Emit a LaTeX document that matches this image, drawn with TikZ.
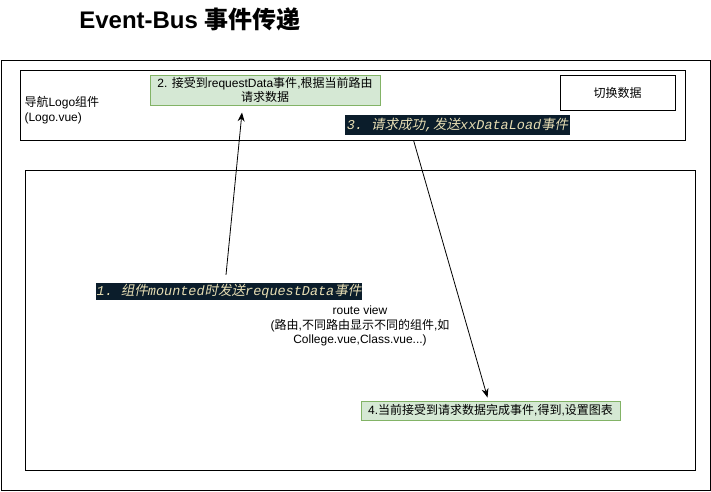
\documentclass[tikz,border=0pt]{standalone}
\usepackage{fontspec}
\usepackage{xcolor}
\usetikzlibrary{arrows.meta}
\setmainfont{Liberation Sans}
\newfontfamily\cjk{Noto Sans CJK SC}
\newfontfamily\cjkit{Noto Sans CJK SC}[FakeSlant=0.2]
\newfontfamily\codefont{Liberation Mono}
\definecolor{boxgreen}{HTML}{D5E8D4}
\definecolor{linegreen}{HTML}{82B366}
\definecolor{codebg}{HTML}{0B1D2B}
\definecolor{codefg}{HTML}{E6DDB3}

\tikzset{
  greenbox/.style={draw=linegreen, fill=boxgreen, line width=1pt, inner sep=0pt, align=center},
  plainbox/.style={draw, line width=1pt, inner sep=0pt},
  codelabel/.style={fill=codebg, text=codefg, inner sep=0pt, font=\fontsize{13.5}{15}\selectfont\codefont\itshape},
  flow/.style={-{Stealth[length=9pt,width=7pt]}, line width=0.8pt}
}

\begin{document}
\begin{tikzpicture}[x=1pt, y=-1pt, font=\fontsize{12}{14.4}\selectfont]
    \useasboundingbox (0,0) rectangle (711,491);

    % Draw the frames
    \draw[line width=1pt] (1,60) rectangle (710,490);
    \draw[line width=1pt] (20,70) rectangle (685,140);
    \draw[line width=1pt] (25,170) rectangle (695,470);

    % Add the title
    \node (title) at (190,19) {\fontsize{24}{28}\selectfont\bfseries Event-Bus {\cjk 事件传递}};

    % Add the boxes
    \node[greenbox, minimum width=230pt, minimum height=30pt] (recv) at (265,90)
        {2. {\cjk 接受到}requestData{\cjk 事件},{\cjk 根据当前路由}\\{\cjk 请求数据}};
    \node[plainbox, minimum width=115pt, minimum height=35pt] (switch) at (617.5,92.5) {\cjk 切换数据};
    \node[greenbox, minimum width=259pt, minimum height=19pt] (done) at (490.5,410.5)
        {4.{\cjk 当前接受到请求数据完成事件},{\cjk 得到},{\cjk 设置图表}};

    % Add the labels
    \node[anchor=west, align=left] (logo) at (21,110) {{\cjk 导航}Logo{\cjk 组件}\\(Logo.vue)};
    \node[align=center] (route) at (360,326)
        {route view\\({\cjk 路由},{\cjk 不同路由显示不同的组件},{\cjk 如}\\College.vue,Class.vue...)};
    \node[codelabel, minimum width=225pt, minimum height=20pt] (lblthree) at (457.5,125)
        {3.\ {\cjkit 请求成功},{\cjkit 发送}xxDataLoad{\cjkit 事件}};
    \node[codelabel, minimum width=266pt, minimum height=17pt] (lblone) at (229,291.5)
        {1.\ {\cjkit 组件}mounted{\cjkit 时发送}requestData{\cjkit 事件}};

    % Draw the arrows
    \draw[flow] ([xshift=-3pt, yshift=8pt]lblone.north) -- ([xshift=-23pt, yshift=-7pt]recv.south);
    \draw[flow] ([xshift=-44pt, yshift=-5pt]lblthree.south) -- ([xshift=-3pt, yshift=3pt]done.north);
\end{tikzpicture}
\end{document}
